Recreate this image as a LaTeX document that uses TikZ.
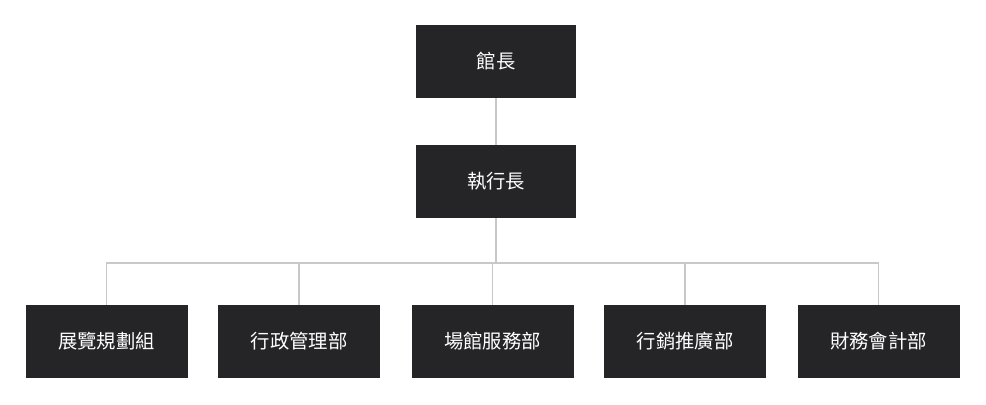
\documentclass[tikz,border=0pt]{standalone}
\usepackage{fontspec}
\newfontfamily\cjk{Noto Sans CJK TC}
\definecolor{boxc}{HTML}{252527}
\definecolor{linec}{HTML}{C8C8C8}
\begin{document}
\begin{tikzpicture}[x=0.75pt,y=-0.75pt,
  box/.style={fill=boxc,text=white,minimum width=162*0.75pt,minimum height=73*0.75pt,inner sep=0pt,font=\cjk\fontsize{14.5pt}{16pt}\selectfont},
  conn/.style={draw=linec,line width=1.1pt}]
\useasboundingbox (0,0) rectangle (986,404);
\node[box,minimum width=160*0.75pt] (a) at (496,61.5) {館長};
\node[box,minimum width=160*0.75pt] (b) at (496,181.5) {執行長};
\node[box] (c1) at (106.5,341.5) {展覽規劃組};
\node[box] (c2) at (299,341.5) {行政管理部};
\node[box] (c3) at (492.5,341.5) {場館服務部};
\node[box] (c4) at (685,341.5) {行銷推廣部};
\node[box] (c5) at (878.5,341.5) {財務會計部};
\coordinate (j) at (496,263);
\draw[conn] (a) -- (b);
\draw[conn] (b.south) -- (j);
\foreach \n in {c1,c2,c3,c4,c5} \draw[conn] (\n.north) |- (j);
\end{tikzpicture}
\end{document}
